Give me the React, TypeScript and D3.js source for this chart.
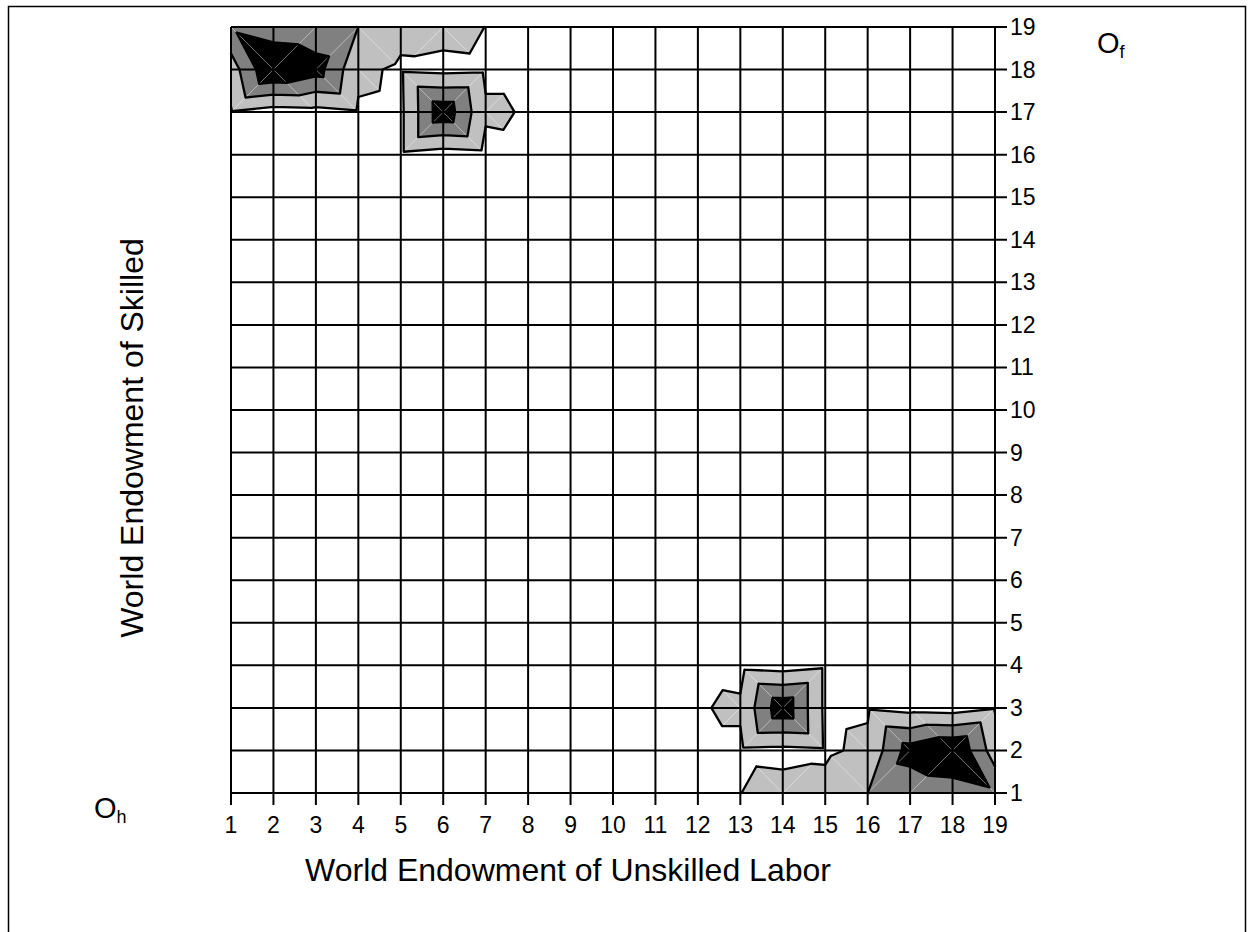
import React from 'react';
import * as d3 from 'd3';

const W = 1249;
const H = 932;

const xTickLabels = ['1','2','3','4','5','6','7','8','9','10','11','12','13','14','15','16','17','18','19'];
const yTickLabels = ['1','2','3','4','5','6','7','8','9','10','11','12','13','14','15','16','17','18','19'];
const xValues = [1,2,3,4,5,6,7,8,9,10,11,12,13,14,15,16,17,18,19];
const yValues = [1,2,3,4,5,6,7,8,9,10,11,12,13,14,15,16,17,18,19];
const levels = [1, 2, 3];

// rows from y = 19 (top) down to y = 1 (bottom); columns x = 1..19
const zRows: number[][] = [
  [2.84, 2.41, 2.27, 1.99, 1.29, 1.33, 0.99, 0.60, 0.30, 0.20, 0.10, 0.05, 0, 0, 0, 0, 0, 0, 0],
  [1.49, 4.05, 3.45, 1.20, 0.85, 0.73, 0.80, 0.80, 0.35, 0.20, 0.10, 0.05, 0, 0, 0, 0, 0, 0, 0],
  [0.93, 0.58, 0.67, 0.89, 0.80, 3.72, 1.15, 0.93, 0.40, 0.20, 0.10, 0.05, 0, 0, 0, 0, 0, 0, 0],
  [0.30, 0.20, 0.25, 0.45, 0.80, 0.55, 0.70, 0.79, 0.30, 0.15, 0.05, 0, 0, 0, 0, 0, 0, 0, 0],
  [0.10, 0.10, 0.10, 0.15, 0.20, 0.20, 0.20, 0.20, 0.10, 0.05, 0, 0, 0, 0, 0, 0, 0, 0, 0],
  [0, 0, 0, 0, 0, 0, 0, 0, 0, 0, 0, 0, 0, 0, 0, 0, 0, 0, 0],
  [0, 0, 0, 0, 0, 0, 0, 0, 0, 0, 0, 0, 0, 0, 0, 0, 0, 0, 0],
  [0, 0, 0, 0, 0, 0, 0, 0, 0, 0, 0, 0, 0, 0, 0, 0, 0, 0, 0],
  [0, 0, 0, 0, 0, 0, 0, 0, 0, 0, 0, 0, 0, 0, 0, 0, 0, 0, 0],
  [0, 0, 0, 0, 0, 0, 0, 0, 0, 0, 0, 0, 0, 0, 0, 0, 0, 0, 0],
  [0, 0, 0, 0, 0, 0, 0, 0, 0, 0, 0, 0, 0, 0, 0, 0, 0, 0, 0],
  [0, 0, 0, 0, 0, 0, 0, 0, 0, 0, 0, 0, 0, 0, 0, 0, 0, 0, 0],
  [0, 0, 0, 0, 0, 0, 0, 0, 0, 0, 0, 0, 0, 0, 0, 0, 0, 0, 0],
  [0, 0, 0, 0, 0, 0, 0, 0, 0, 0, 0, 0, 0, 0, 0, 0, 0, 0, 0],
  [0, 0, 0, 0, 0, 0, 0, 0, 0, 0.05, 0.10, 0.20, 0.20, 0.20, 0.20, 0.15, 0.10, 0.10, 0.10],
  [0, 0, 0, 0, 0, 0, 0, 0, 0.05, 0.15, 0.30, 0.79, 0.70, 0.55, 0.80, 0.45, 0.25, 0.20, 0.30],
  [0, 0, 0, 0, 0, 0, 0, 0.05, 0.10, 0.20, 0.40, 0.93, 1.15, 3.72, 0.80, 0.89, 0.67, 0.58, 0.93],
  [0, 0, 0, 0, 0, 0, 0, 0.05, 0.10, 0.20, 0.35, 0.80, 0.80, 0.73, 0.85, 1.20, 3.45, 4.05, 1.49],
  [0, 0, 0, 0, 0, 0, 0, 0.05, 0.10, 0.20, 0.30, 0.60, 0.99, 1.33, 1.29, 1.99, 2.27, 2.41, 2.84],
];

const BAND_COLORS = ['#ffffff', '#c0c0c0', '#808080', '#000000'];
const FONT = '"Liberation Sans", Arial, Helvetica, sans-serif';

type P = { x: number; y: number; v: number };

function clip(poly: P[], L: number, above: boolean): P[] {
  const out: P[] = [];
  const n = poly.length;
  for (let i = 0; i < n; i++) {
    const a = poly[i];
    const b = poly[(i + 1) % n];
    const ina = above ? a.v >= L : a.v <= L;
    const inb = above ? b.v >= L : b.v <= L;
    if (ina) out.push(a);
    if (ina !== inb) {
      const t = (L - a.v) / (b.v - a.v);
      out.push({ x: a.x + t * (b.x - a.x), y: a.y + t * (b.y - a.y), v: L });
    }
  }
  return out;
}

export default function App() {
  const x = d3.scaleLinear().domain([1, 19]).range([231, 995]);
  const y = d3.scaleLinear().domain([1, 19]).range([793, 27]);
  const val = (xi: number, yi: number) => zRows[19 - yi][xi - 1];

  const triangles: P[][] = [];
  const diagonals: [number, number, number, number][] = [];
  for (let xi = 1; xi < 19; xi++) {
    for (let yi = 1; yi < 19; yi++) {
      const p00 = { x: xi, y: yi, v: val(xi, yi) };
      const p10 = { x: xi + 1, y: yi, v: val(xi + 1, yi) };
      const p01 = { x: xi, y: yi + 1, v: val(xi, yi + 1) };
      const p11 = { x: xi + 1, y: yi + 1, v: val(xi + 1, yi + 1) };
      if (p00.v + p11.v >= p10.v + p01.v) {
        triangles.push([p00, p10, p11], [p00, p11, p01]);
        diagonals.push([xi, yi, xi + 1, yi + 1]);
      } else {
        triangles.push([p00, p10, p01], [p10, p11, p01]);
        diagonals.push([xi + 1, yi, xi, yi + 1]);
      }
    }
  }

  const toPath = (poly: P[]) =>
    'M' + poly.map((p) => `${x(p.x).toFixed(2)},${y(p.y).toFixed(2)}`).join('L') + 'Z';

  const bandPaths: string[][] = [[], [], [], []];
  triangles.forEach((tri) => {
    for (let k = 1; k < 4; k++) {
      let poly = clip(tri, levels[k - 1], true);
      if (k < 3 && poly.length >= 3) poly = clip(poly, levels[k], false);
      if (poly.length >= 3) bandPaths[k].push(toPath(poly));
    }
  });

  let contourD = '';
  triangles.forEach((tri) => {
    levels.forEach((L) => {
      const pts: [number, number][] = [];
      for (let i = 0; i < 3; i++) {
        const a = tri[i];
        const b = tri[(i + 1) % 3];
        if ((a.v - L) * (b.v - L) < 0) {
          const t = (L - a.v) / (b.v - a.v);
          pts.push([a.x + t * (b.x - a.x), a.y + t * (b.y - a.y)]);
        }
      }
      if (pts.length === 2) {
        contourD += `M${x(pts[0][0]).toFixed(2)},${y(pts[0][1]).toFixed(2)}L${x(pts[1][0]).toFixed(2)},${y(pts[1][1]).toFixed(2)}`;
      }
    });
  });

  return (
    <svg
      width={W}
      height={H}
      style={{ position: 'absolute', left: 0, top: 0, display: 'block', background: '#fff' }}
      fontFamily={FONT}
    >
      <rect x={8.5} y={6.5} width={1237} height={1000} fill="none" stroke="#000" strokeWidth={1.5} />

      {bandPaths.map((paths, k) =>
        k === 0 ? null : (
          <path key={k} d={paths.join('')} fill={BAND_COLORS[k]} stroke={BAND_COLORS[k]} strokeWidth={0.6} />
        )
      )}

      <g stroke="#ffffff" strokeOpacity={0.45} strokeWidth={1}>
        {diagonals.map((d, i) => (
          <line key={i} x1={x(d[0])} y1={y(d[1])} x2={x(d[2])} y2={y(d[3])} />
        ))}
      </g>

      <path d={contourD} fill="none" stroke="#000" strokeWidth={2.3} strokeLinejoin="round" strokeLinecap="round" />

      <g stroke="#000" strokeWidth={2}>
        {xValues.map((v) => (
          <line key={'gx' + v} x1={x(v)} y1={y(19)} x2={x(v)} y2={y(1) + 12} />
        ))}
        {yValues.map((v) => (
          <line key={'gy' + v} x1={x(1)} y1={y(v)} x2={x(19) + 12} y2={y(v)} />
        ))}
      </g>

      <g fontSize={23} fill="#000">
        {yValues.map((v, i) => (
          <text key={'ty' + v} x={x(19) + 15} y={y(v) + 8}>
            {yTickLabels[i]}
          </text>
        ))}
        {xValues.map((v, i) => (
          <text key={'tx' + v} x={x(v)} y={833} textAnchor="middle">
            {xTickLabels[i]}
          </text>
        ))}
      </g>

      <text x={568} y={881} fontSize={32} textAnchor="middle">
        World Endowment of Unskilled Labor
      </text>
      <text transform="translate(143,438) rotate(-90)" fontSize={32} textAnchor="middle">
        World Endowment of Skilled
      </text>

      <text x={94} y={818} fontSize={29}>
        O<tspan fontSize={18} dy={5}>h</tspan>
      </text>
      <text x={1097} y={53} fontSize={29}>
        O<tspan fontSize={18} dy={5}>f</tspan>
      </text>
    </svg>
  );
}
